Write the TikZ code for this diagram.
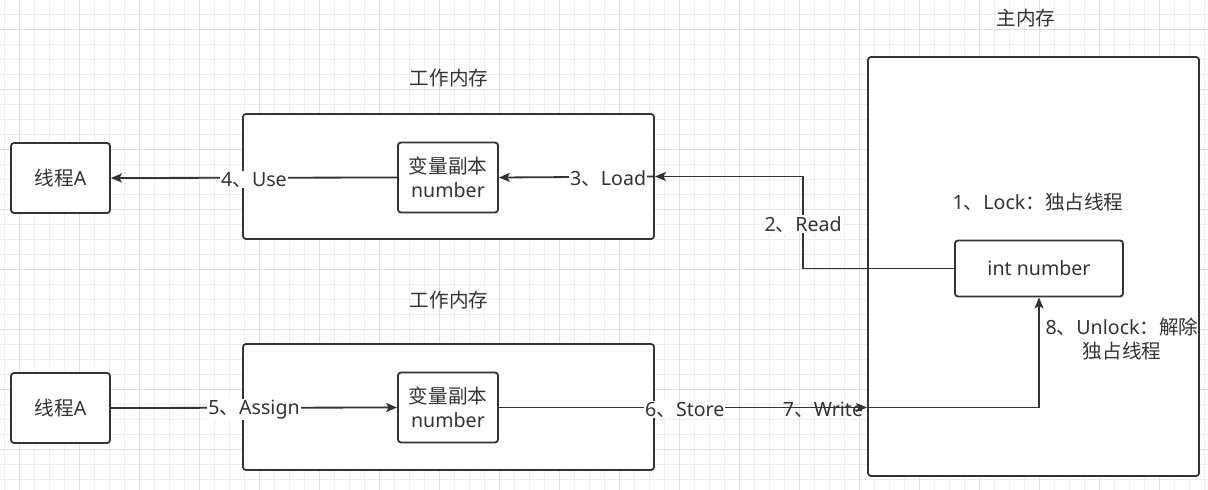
\documentclass[tikz,border=0pt]{standalone}
\usepackage{fontspec}
\setmainfont{Noto Sans}
\newfontfamily\cjkfont{Noto Sans CJK SC}
\newcommand\zhc[1]{{\cjkfont #1}}
\usetikzlibrary{arrows.meta}
\definecolor{ink}{HTML}{333333}
\definecolor{gridminor}{HTML}{EEEEEE}
\definecolor{gridmajor}{HTML}{E0E0E0}
\tikzset{
  box/.style={draw=ink, line width=1.8pt, fill=white, rounded corners=3pt, inner sep=0pt},
  txt/.style={text=ink, font=\fontsize{19.6}{25}\selectfont, inner sep=1pt, align=center},
  lbl/.style={txt, fill=white},
  arr/.style={draw=ink, line width=1.8pt, -{Stealth[length=11pt, width=9pt, inset=2.5pt]}},
}
\begin{document}
\begin{tikzpicture}[x=1pt, y=-1pt]
\useasboundingbox (0,0) rectangle (1208,490);
\fill[white] (0,0) rectangle (1208,490);
% grid
\foreach \gx in {4.3,19.3,...,1208} \draw[gridminor, line width=0.8pt] (\gx,0) -- (\gx,490);
\foreach \gy in {14.3,29.3,...,490} \draw[gridminor, line width=0.8pt] (0,\gy) -- (1208,\gy);
\foreach \gx in {19.3,79.3,...,1208} \draw[gridmajor, line width=0.9pt] (\gx,0) -- (\gx,490);
\foreach \gy in {29.3,89.3,...,490} \draw[gridmajor, line width=0.9pt] (0,\gy) -- (1208,\gy);

% titles
\node[txt] (t1) at (449,78) {\zhc{工作内存}};
\node[txt] (t2) at (449,300) {\zhc{工作内存}};
\node[txt] (t3) at (1026,18) {\zhc{主内存}};

% boxes
\node[box, minimum width=411pt, minimum height=125pt] (wm1) at (448.5,176.5) {};
\node[box, minimum width=411pt, minimum height=126pt] (wm2) at (448.5,407) {};
\node[box, minimum width=331pt, minimum height=419pt] (mm) at (1033.5,266.5) {};
\node[box, txt, minimum width=99pt, minimum height=70pt, inner sep=0pt] (ta1) at (60.5,178) {\zhc{线程}A};
\node[box, txt, minimum width=99pt, minimum height=70pt, inner sep=0pt] (ta2) at (60.5,408) {\zhc{线程}A};
\node[box, txt, minimum width=100pt, minimum height=70pt, inner sep=0pt, font=\fontsize{19.6}{24}\selectfont] (v1) at (448,177.5) {\zhc{变量副本}\\number};
\node[box, txt, minimum width=100pt, minimum height=70pt, inner sep=0pt, font=\fontsize{19.6}{24}\selectfont] (v2) at (448,407.5) {\zhc{变量副本}\\number};
\node[box, txt, minimum width=168pt, minimum height=56pt, inner sep=0pt] (int) at (1039,268.5) {int number};

\node[txt] (lock) at (1038,202) {1\zhc{、}Lock\zhc{：独占线程}};
\node[txt, font=\fontsize{19.6}{24}\selectfont] (unlock) at (1122,339) {8\zhc{、}Unlock\zhc{：解除}\\\zhc{独占线程}};

% connectors top
\draw[arr] (v1.west) -- node[lbl, yshift=-2pt] {4\zhc{、}Use} (ta1.east);
\draw[arr] (wm1.east) -- node[lbl, pos=0.3, yshift=-2pt] {3\zhc{、}Load} (v1.east);
\draw[arr] (int.west) -- ++(-151,0) |- node[lbl, pos=0.24] {2\zhc{、}Read} (wm1.east);

% connectors bottom
\coordinate (w) at (mm.west |- v2.east);
\node[txt] (write) at (823,410) {7\zhc{、}Write};
\draw[arr] (ta2.east) -- node[lbl, yshift=-2pt] {5\zhc{、}Assign} (v2.west);
\draw[arr] (v2.east) -- node[lbl, pos=0.505, yshift=-2pt] {6\zhc{、}Store} (w);
\draw[arr] (w) -| (int.south);
\end{tikzpicture}
\end{document}
